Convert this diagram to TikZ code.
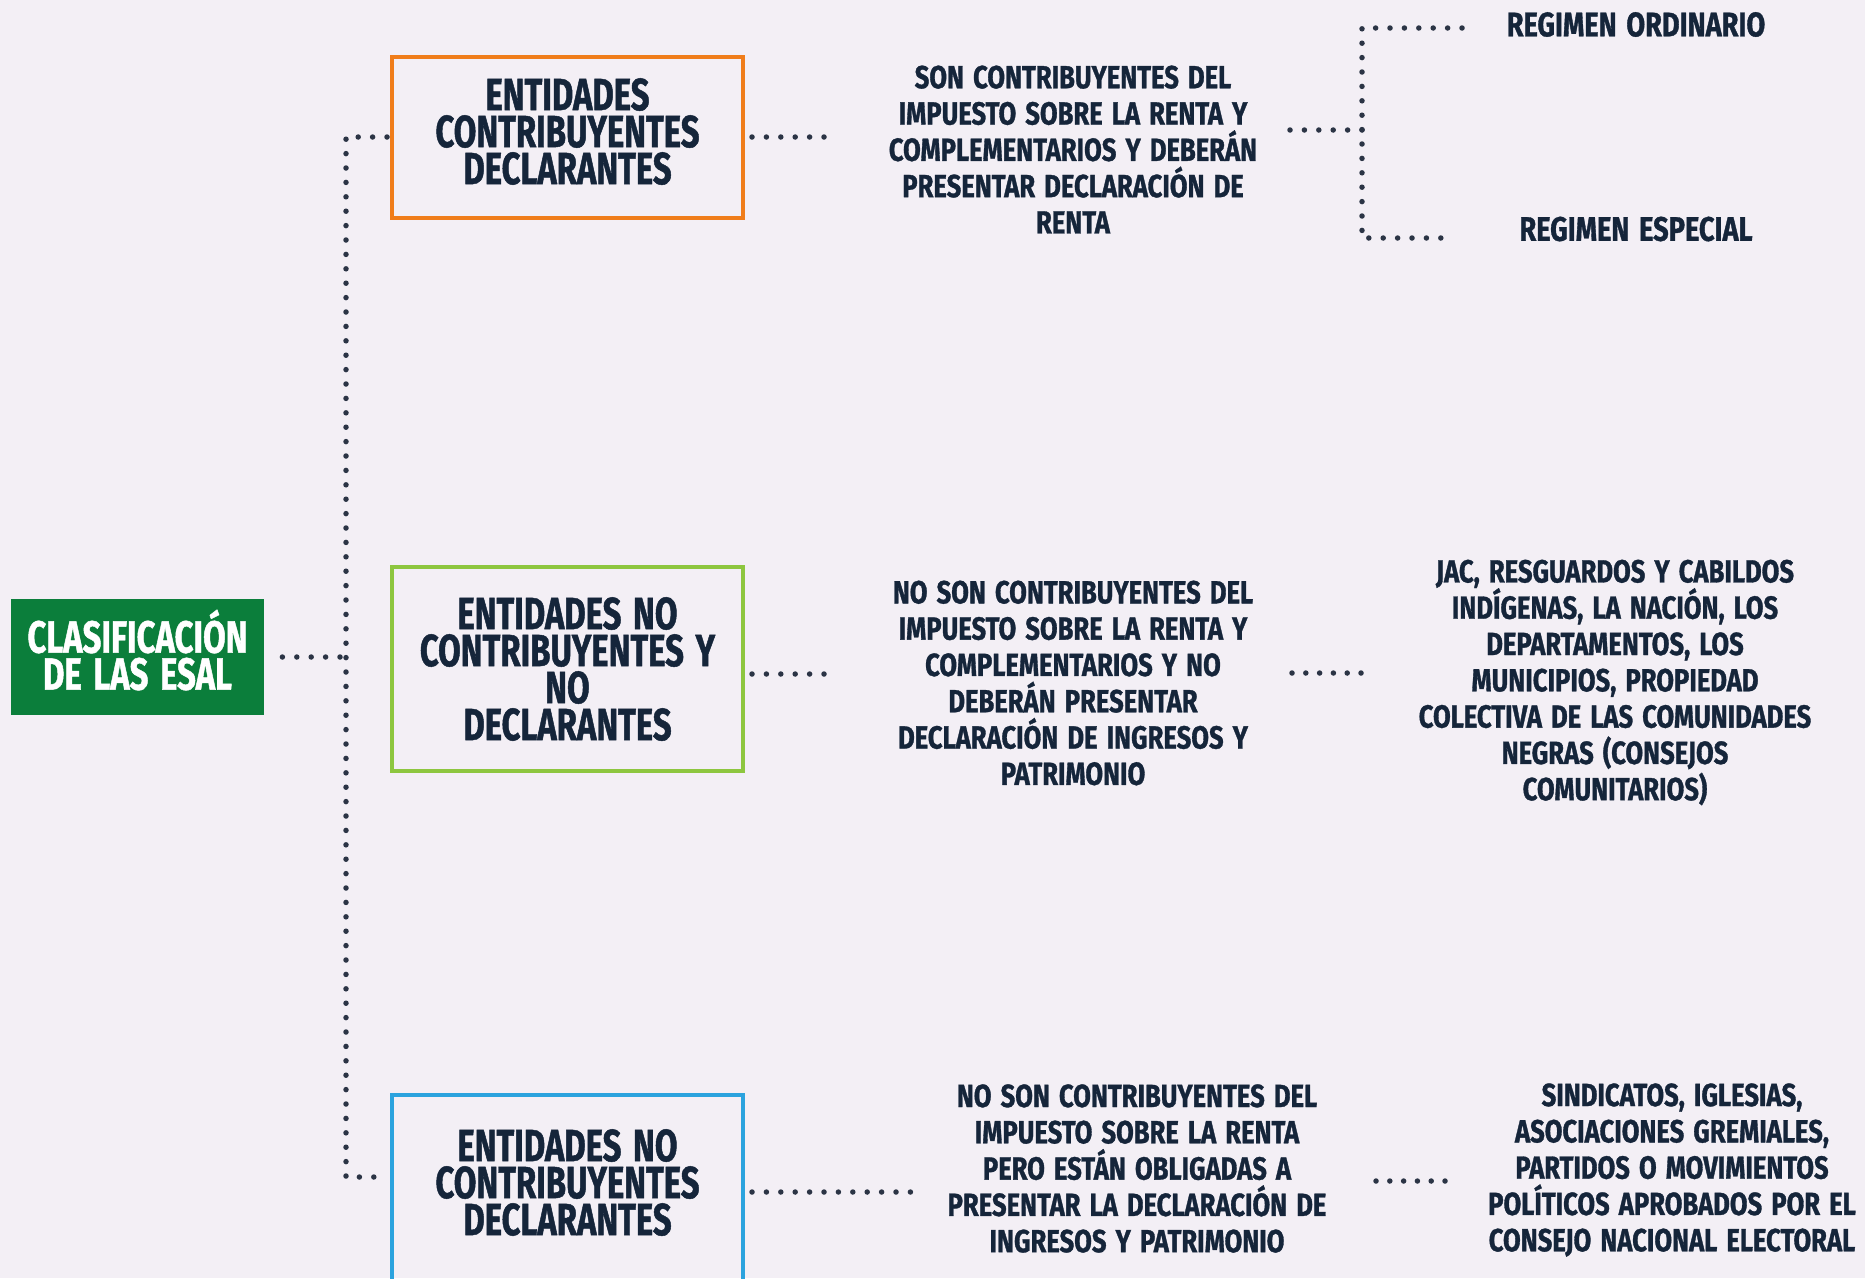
\documentclass[tikz,border=0pt]{standalone}
\usepackage{fontspec}
\newfontfamily\cond[FakeStretch=0.73,WordSpace=1.5,BoldFeatures={FakeBold=1}]{Fira Sans}
\newfontfamily\condw[FakeStretch=0.80,WordSpace=1.5,BoldFeatures={FakeBold=1}]{Fira Sans}
\definecolor{bg}{HTML}{F3EFF5}
\definecolor{ink}{HTML}{15253A}
\definecolor{dotc}{HTML}{2B3445}
\definecolor{corange}{HTML}{F07D1A}
\definecolor{clime}{HTML}{8DC63F}
\definecolor{cblue}{HTML}{2BA3DE}
\definecolor{cgreen}{HTML}{0B7E3B}
\begin{document}
\begin{tikzpicture}[x=1pt,y=-1pt,
  ent/.style={draw, line width=4pt, minimum width=351pt, inner sep=0pt},
  enttxt/.style={align=center, text=ink, inner sep=0pt, font=\cond\bfseries\fontsize{45}{37}\selectfont},
  desc/.style={align=center, text=ink, inner sep=0pt, font=\condw\bfseries\fontsize{32}{36.3}\selectfont},
  regtxt/.style={text=ink, inner sep=0pt, font=\condw\bfseries\fontsize{34}{36}\selectfont},
  dots/.style={draw=dotc, line width=5.5pt, line cap=round, dash pattern=on 0pt off 14.4pt},
  dots14/.style={dots, dash pattern=on 0pt off 13.8pt}]
\fill[bg] (0,0) rectangle (1865,1278);
\useasboundingbox (0,0) rectangle (1865,1278);

% root
\node[fill=cgreen, minimum width=253pt, minimum height=116pt, inner sep=0pt,
  label={[enttxt, text=white, yshift=7pt]center:CLASIFICACIÓN\\DE LAS ESAL}] (esal) at (137.5,657) {};

% entity boxes
\node[ent, draw=corange, minimum height=161pt,
  label={[enttxt, yshift=5.5pt]center:ENTIDADES\\CONTRIBUYENTES\\DECLARANTES}] (box1) at (567.5,137) {};
\node[ent, draw=clime, minimum height=204pt,
  label={[enttxt]center:ENTIDADES NO\\CONTRIBUYENTES Y\\NO\\DECLARANTES}] (box2) at (567.5,669) {};
\node[ent, draw=cblue, minimum height=204pt,
  label={[enttxt, yshift=14.5pt]center:ENTIDADES NO\\CONTRIBUYENTES\\DECLARANTES}] (box3) at (567.5,1197) {};

% descriptions
\node[desc] (t1) at (1073,149.5) {SON CONTRIBUYENTES DEL\\IMPUESTO SOBRE LA RENTA Y\\COMPLEMENTARIOS Y DEBERÁN\\PRESENTAR DECLARACIÓN DE\\RENTA};
\node[desc] (t2) at (1073,683) {NO SON CONTRIBUYENTES DEL\\IMPUESTO SOBRE LA RENTA Y\\COMPLEMENTARIOS Y NO\\DEBERÁN PRESENTAR\\DECLARACIÓN DE INGRESOS Y\\PATRIMONIO};
\node[desc] (t3) at (1615,682.5) {JAC, RESGUARDOS Y CABILDOS\\INDÍGENAS, LA NACIÓN, LOS\\DEPARTAMENTOS, LOS\\MUNICIPIOS, PROPIEDAD\\COLECTIVA DE LAS COMUNIDADES\\NEGRAS (CONSEJOS\\COMUNITARIOS)};
\node[desc] (t4) at (1137,1168.5) {NO SON CONTRIBUYENTES DEL\\IMPUESTO SOBRE LA RENTA\\PERO ESTÁN OBLIGADAS A\\PRESENTAR LA DECLARACIÓN DE\\INGRESOS Y PATRIMONIO};
\node[desc] (t5) at (1672,1170) {SINDICATOS, IGLESIAS,\\ASOCIACIONES GREMIALES,\\PARTIDOS O MOVIMIENTOS\\POLÍTICOS APROBADOS POR EL\\CONSEJO NACIONAL ELECTORAL};

% regimes
\node[regtxt] (r1) at (1636,24.5) {REGIMEN ORDINARIO};
\node[regtxt] (r2) at (1636,229) {REGIMEN ESPECIAL};

% connectors
\coordinate (sp3) at (346,1177);
\coordinate (br) at (1362,130);
\draw[dots] ([xshift=-6pt]esal.east -| sp3) -- ([xshift=6pt]esal.east);
\draw[dots] ([xshift=-3pt]box1.west) -- (box1.west -| sp3) -- (sp3) -- ([xshift=-3pt,yshift=20pt]box3.west);
\draw[dots] ([xshift=7pt]box1.east) -- ++(72,0);
\draw[dots] ([xshift=7pt,yshift=-5pt]box2.east) -- ++(72,0);
\draw[dots] ([xshift=7pt,yshift=5pt]box3.east) -- ++(166,0);
\draw[dots] (1290,130) -- (br);
\draw[dots] (r1.west -| br) ++(100,3.5) -- ++(-100,0) -- ++(0,210) -- ++(93,0);
\draw[dots14] (1292,673) -- ++(69,0);
\draw[dots14] (1376,1181) -- ++(69,0);
\end{tikzpicture}
\end{document}
